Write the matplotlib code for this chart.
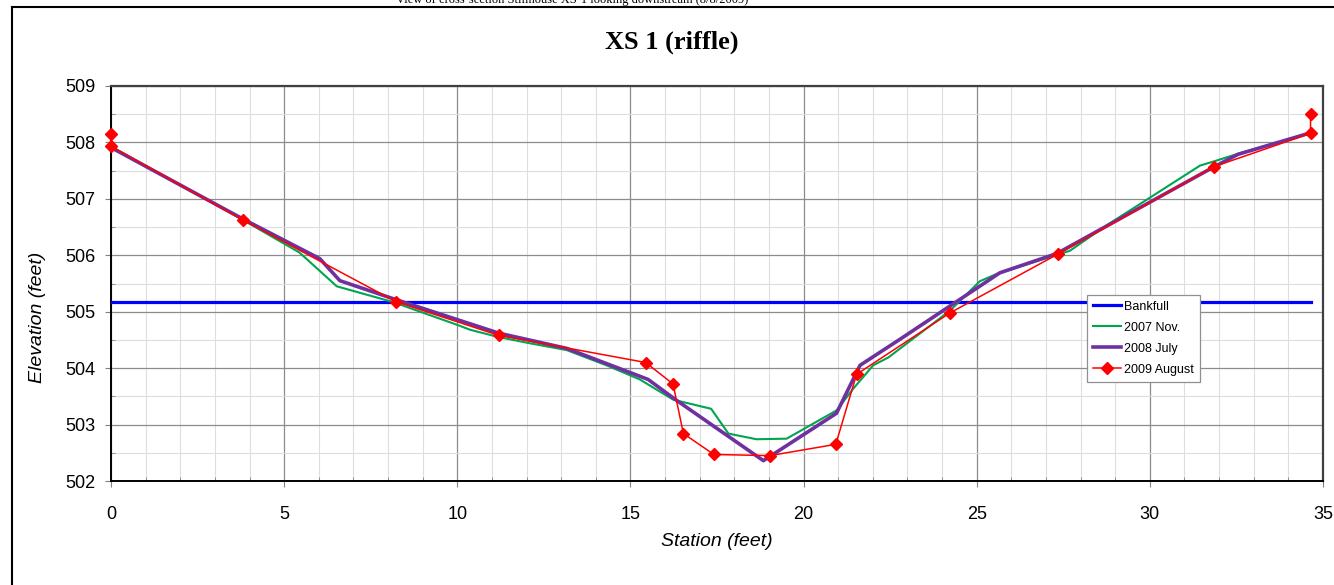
import matplotlib
matplotlib.use("Agg")
import matplotlib.pyplot as plt
from matplotlib.ticker import MultipleLocator
from matplotlib.lines import Line2D

# ---- data ----
bankfull_x = [0, 34.64]
bankfull_y = [505.18, 505.18]

nov2007_x = [0, 3.80, 5.44, 6.52, 8.15, 10.03, 10.37, 11.20, 12.10, 13.16, 14.31, 15.27,
             16.24, 17.33, 17.83, 18.64, 19.51, 20.95, 21.44, 22.01, 22.45, 24.23, 25.09,
             25.58, 27.69, 28.75, 31.45, 31.83, 32.55, 34.64]
nov2007_y = [507.93, 506.63, 506.05, 505.45, 505.17, 504.76, 504.68, 504.55, 504.44, 504.32,
             504.05, 503.80, 503.44, 503.28, 502.84, 502.74, 502.75, 503.25, 503.64, 504.05,
             504.19, 505.02, 505.54, 505.67, 506.08, 506.53, 507.59, 507.66, 507.80, 508.17]

jul2008_x = [0, 3.82, 6.03, 6.61, 8.20, 11.20, 13.16, 15.51, 16.33, 18.84, 20.95, 21.63,
             22.78, 25.67, 27.31, 31.83, 32.55, 34.64]
jul2008_y = [507.91, 506.64, 505.94, 505.55, 505.22, 504.62, 504.35, 503.80, 503.43, 502.36,
             503.20, 504.05, 504.51, 505.69, 506.03, 507.56, 507.79, 508.17]

aug2009_x = [0, 0, 3.80, 8.22, 11.20, 15.44, 16.23, 16.53, 17.41, 19.03, 20.93, 21.53,
             24.23, 27.34, 31.85, 34.64, 34.64]
aug2009_y = [508.15, 507.93, 506.63, 505.18, 504.58, 504.10, 503.72, 502.84, 502.47, 502.45,
             502.65, 503.89, 504.98, 506.02, 507.57, 508.16, 508.51]

series_labels = ["Bankfull", "2007 Nov.", "2008 July", "2009 August"]
x_ticks = [0, 5, 10, 15, 20, 25, 30, 35]
y_ticks = [502, 503, 504, 505, 506, 507, 508, 509]

title_text = "XS 1 (riffle)"
top_caption = "View of cross-section Stillhouse XS-1 looking downstream (8/8/2009)"
x_label = "Station (feet)"
y_label = "Elevation (feet)"

# ---- figure ----
W, H = 1334, 585
fig = plt.figure(figsize=(W / 100, H / 100), dpi=100)
fig.patch.set_facecolor("white")

ax = fig.add_axes([111 / W, 1 - 481 / H, (1323 - 111) / W, (481 - 86) / H])

ax.plot(bankfull_x, bankfull_y, color="#0000FF", lw=2.3, label=series_labels[0], zorder=3)
ax.plot(nov2007_x, nov2007_y, color="#00A550", lw=1.5, label=series_labels[1], zorder=4)
ax.plot(jul2008_x, jul2008_y, color="#7030A0", lw=2.6, label=series_labels[2], zorder=5)
ax.plot(aug2009_x, aug2009_y, color="#FF0000", lw=1.1, marker="D", ms=6, mfc="#FF0000",
        mec="#FF0000", label=series_labels[3], zorder=6, clip_on=False)

ax.set_xlim(0, 35)
ax.set_ylim(502, 509)
ax.set_xticks(x_ticks)
ax.set_yticks(y_ticks)
ax.xaxis.set_minor_locator(MultipleLocator(1))
ax.yaxis.set_minor_locator(MultipleLocator(0.5))

ax.grid(which="major", color="#8c8c8c", lw=0.9, zorder=0)
ax.grid(which="minor", color="#dedede", lw=0.8, zorder=0)
ax.set_axisbelow(True)

ax.tick_params(which="major", direction="out", length=4, width=0.8, color="#808080",
               labelsize=13, pad=7)
ax.tick_params(axis="x", which="major", pad=14)
ax.tick_params(which="minor", direction="in", length=3, width=0.6, color="#808080")
for lab in ax.get_xticklabels() + ax.get_yticklabels():
    lab.set_family("Liberation Sans")

for s in ["left", "bottom"]:
    ax.spines[s].set_color("black")
    ax.spines[s].set_linewidth(1.4)
for s in ["top", "right"]:
    ax.spines[s].set_color("#404040")
    ax.spines[s].set_linewidth(1.6)

leg = ax.legend(loc="lower left", bbox_to_anchor=((1087 - 111) / 1212, (481 - 382) / 395),
                prop={"family": "Liberation Sans", "size": 9}, frameon=True, fancybox=False,
                edgecolor="#909090", framealpha=1, handlelength=2.2, handletextpad=0.25,
                labelspacing=0.72, borderpad=0.5, borderaxespad=0)
leg.get_frame().set_linewidth(0.9)
leg.set_zorder(10)

# texts
fig.text(672 / W, 1 - 42 / H, title_text, family="Liberation Serif", weight="bold",
         size=19, ha="center", va="center")
fig.text(717 / W, 1 - 541 / H, x_label, family="Liberation Sans", style="italic",
         size=14, ha="center", va="center")
fig.text(37 / W, 1 - 317 / H, y_label, family="Liberation Sans", style="italic",
         size=14, ha="center", va="center", rotation=90)
fig.text(572 / W, 1 - 3 / H, top_caption, family="Liberation Serif", size=9,
         ha="center", va="baseline")

# outer frame (left and top edges visible)
fig.add_artist(Line2D([11.5 / W, 11.5 / W], [0, 1 - 6.5 / H], transform=fig.transFigure,
                      color="black", lw=1.5))
fig.add_artist(Line2D([11.5 / W, 1], [1 - 6.5 / H, 1 - 6.5 / H], transform=fig.transFigure,
                      color="black", lw=1.5))

fig.savefig("out.png", dpi=100)
